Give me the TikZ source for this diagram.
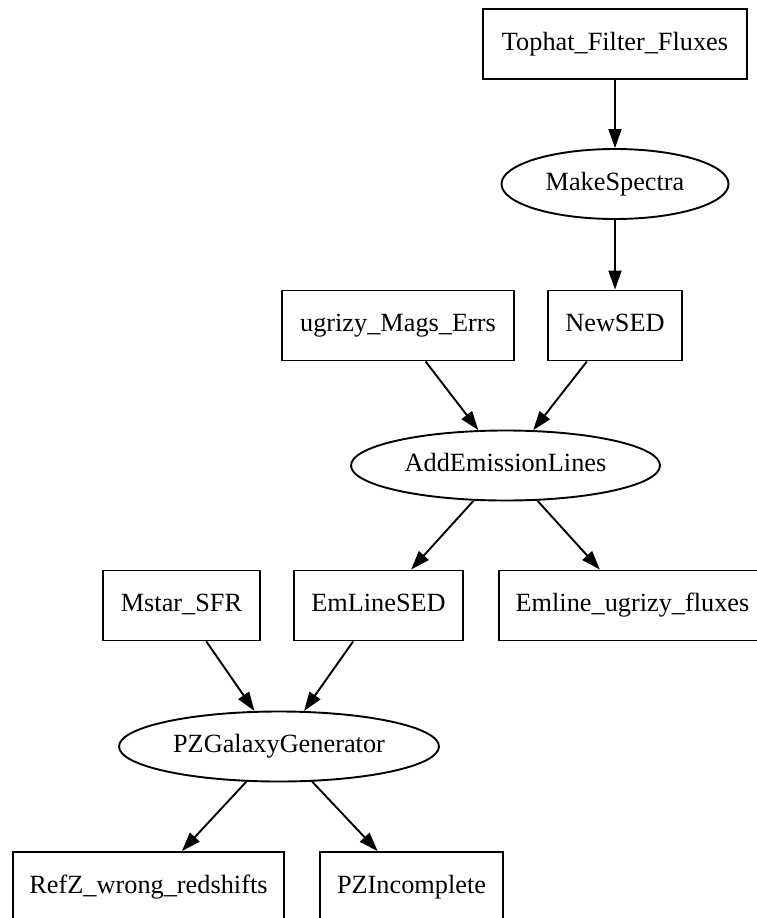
\documentclass[tikz,border=0pt]{standalone}
\usepackage{fontspec}
\setmainfont{Liberation Serif}
\usetikzlibrary{shapes.geometric,arrows.meta}

\tikzset{
  every node/.style={font=\fontsize{26.3}{30}\selectfont, inner sep=0pt,
    text height=18pt, text depth=6pt, line width=1.9pt},
  databox/.style={draw, rectangle, minimum height=70pt},
  stageoval/.style={draw, ellipse, minimum height=70pt},
  flow/.style={draw, line width=1.9pt, -{Triangle[length=19pt,width=13pt]}},
}

\begin{document}
\begin{tikzpicture}[x=1pt, y=-1pt]
  \fill[white] (0,0) rectangle (757,918);
  \useasboundingbox (0,0) rectangle (757,918);

  % pipeline stages and their data products
  \node[databox, minimum width=264pt] (tophat) at (615,44) {Tophat\_Filter\_Fluxes};
  \node[stageoval, minimum width=227pt] (makespec) at (615,184) {MakeSpectra};
  \node[databox, minimum width=232pt] (ugrizy) at (398,325.5) {ugrizy\_Mags\_Errs};
  \node[databox, minimum width=134pt] (newsed) at (615,325.5) {NewSED};
  \node[stageoval, minimum width=309pt] (addem) at (505.5,465.5) {AddEmissionLines};
  \node[databox, minimum width=157pt] (mstar) at (181.5,605.5) {Mstar\_SFR};
  \node[databox, minimum width=169pt] (emsed) at (378.5,605.5) {EmLineSED};
  \node[databox, minimum width=267pt] (emflux) at (632.5,605.5) {Emline\_ugrizy\_fluxes};
  \node[stageoval, minimum width=320pt] (pzgal) at (279,746.5) {PZGalaxyGenerator};
  \node[databox, minimum width=271pt] (refz) at (148.5,887) {RefZ\_wrong\_redshifts};
  \node[databox, minimum width=183pt] (pzinc) at (411.5,887) {PZIncomplete};

  % data flow
  \draw[flow] (tophat) -- (makespec);
  \draw[flow] (makespec) -- (newsed);
  \draw[flow] (ugrizy) -- (addem);
  \draw[flow] (newsed) -- (addem);
  \draw[flow] (addem) -- (emsed);
  \draw[flow] (addem) -- (emflux);
  \draw[flow] (mstar) -- (pzgal);
  \draw[flow] (emsed) -- (pzgal);
  \draw[flow] (pzgal) -- (refz);
  \draw[flow] (pzgal) -- (pzinc);
\end{tikzpicture}
\end{document}
